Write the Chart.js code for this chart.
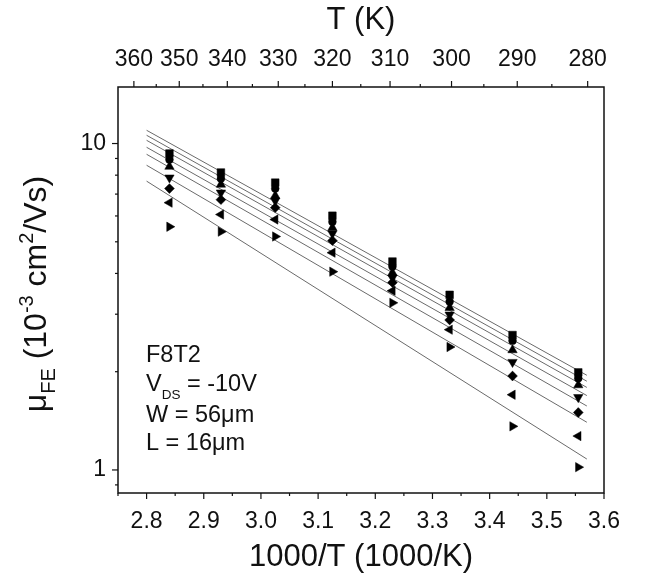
<!DOCTYPE html>
<html>
<head>
<meta charset="utf-8">
<script src="https://cdn.jsdelivr.net/npm/chart.js@4.4.0/dist/chart.umd.min.js"></script>
<style>
  html, body { margin: 0; padding: 0; background: #fff; }
  #wrap { width: 664px; height: 579px; }
</style>
</head>
<body>
<div id="wrap"><canvas id="myChart"></canvas></div>
<script>
// 1000/T positions of the eight measurement temperatures
const invT = [2.84, 2.93, 3.025, 3.125, 3.23, 3.33, 3.44, 3.555];

// field-effect mobility, 10^-3 cm2/Vs, one array per marker type
const muSquare   = [9.32, 8.15, 7.59, 6.01, 4.35, 3.44, 2.59, 1.99];
const muCircle   = [8.93, 7.81, 7.28, 5.76, 4.20, 3.28, 2.49, 1.91];
const muUp       = [8.50, 7.49, 6.92, 5.52, 4.02, 3.14, 2.33, 1.82];
const muDown     = [7.86, 7.07, 6.68, 5.30, 3.88, 2.99, 2.14, 1.67];
const muDiamond  = [7.28, 6.73, 6.36, 5.04, 3.75, 2.88, 1.94, 1.50];
const muLeft     = [6.59, 6.06, 5.85, 4.63, 3.54, 2.69, 1.70, 1.27];
const muRight    = [5.56, 5.37, 5.19, 4.05, 3.25, 2.38, 1.36, 1.02];

// Arrhenius fit lines, read at both ends
const fitX = [2.8, 3.57];
const fitStart = [10.98, 10.60, 10.23, 9.74, 9.27, 8.58, 7.67];
const fitEnd   = [1.95, 1.87, 1.79, 1.69, 1.57, 1.40, 1.08];

// axis ticks
const xTicks = [2.8, 2.9, 3.0, 3.1, 3.2, 3.3, 3.4, 3.5, 3.6];
const xMinor = [2.75, 2.85, 2.95, 3.05, 3.15, 3.25, 3.35, 3.45, 3.55];
const tempTicks = [360, 350, 340, 330, 320, 310, 300, 290, 280];
const tempMinor = [355, 345, 335, 325, 315, 305, 295, 285];
const yTicks = [1, 10];
const yMinor = [0.9, 2, 3, 4, 5, 6, 7, 8, 9];

const FONT = '"Liberation Sans", Arial, sans-serif';
const INK = '#111';

const series = [
    { values: muSquare,  style: 'rect',     rot: 0,   r: 5.4 },
    { values: muCircle,  style: 'circle',   rot: 0,   r: 3.9 },
    { values: muUp,      style: 'triangle', rot: 0,   r: 5.4 },
    { values: muDown,    style: 'triangle', rot: 180, r: 5.4 },
    { values: muDiamond, style: 'rectRot',  rot: 0,   r: 4.9 },
    { values: muLeft,    style: 'triangle', rot: 270, r: 5.4 },
    { values: muRight,   style: 'triangle', rot: 90,  r: 5.4 }
];

const datasets = [];
fitStart.forEach((s, i) => {
    datasets.push({
        data: [{ x: fitX[0], y: s }, { x: fitX[1], y: fitEnd[i] }],
        showLine: true,
        borderColor: '#6a6a6a',
        borderWidth: 1,
        pointRadius: 0,
        order: 2
    });
});
series.forEach(s => {
    datasets.push({
        data: s.values.map((v, i) => ({ x: invT[i], y: v })),
        pointStyle: s.style,
        pointRotation: s.rot,
        pointRadius: s.r,
        backgroundColor: '#000',
        borderColor: '#000',
        borderWidth: 0.5,
        order: 1
    });
});

// draws mixed-size text (sub/superscripts) along the current baseline
function richText(ctx, parts, x, y, center) {
    let total = 0;
    parts.forEach(p => { ctx.font = p[1] + 'px ' + FONT; total += ctx.measureText(p[0]).width; });
    let cx = center ? x - total / 2 : x;
    parts.forEach(p => {
        ctx.font = p[1] + 'px ' + FONT;
        ctx.fillText(p[0], cx, y + p[2]);
        cx += ctx.measureText(p[0]).width;
    });
}

const decor = {
    id: 'decor',
    afterDraw(chart) {
        const ctx = chart.ctx;
        const a = chart.chartArea;
        const xs = chart.scales.x, ys = chart.scales.y;
        ctx.save();
        ctx.strokeStyle = INK;
        ctx.fillStyle = INK;

        // frame
        ctx.lineWidth = 1.5;
        ctx.strokeRect(a.left, a.top, a.right - a.left, a.bottom - a.top);

        // tick marks
        ctx.lineWidth = 1.2;
        const tick = (x1, y1, x2, y2) => { ctx.beginPath(); ctx.moveTo(x1, y1); ctx.lineTo(x2, y2); ctx.stroke(); };
        xTicks.forEach(v => { const px = xs.getPixelForValue(v); tick(px, a.bottom, px, a.bottom + 6); });
        xMinor.forEach(v => { const px = xs.getPixelForValue(v); tick(px, a.bottom, px, a.bottom + 3); });
        tempTicks.forEach(t => { const px = xs.getPixelForValue(1000 / t); tick(px, a.top, px, a.top - 6); });
        tempMinor.forEach(t => { const px = xs.getPixelForValue(1000 / t); tick(px, a.top, px, a.top - 3); });
        yTicks.forEach(v => { const py = ys.getPixelForValue(v); tick(a.left, py, a.left - 6, py); });
        yMinor.forEach(v => { const py = ys.getPixelForValue(v); tick(a.left, py, a.left - 3, py); });

        // axis titles
        const midX = (a.left + a.right) / 2;
        ctx.textAlign = 'left';
        ctx.textBaseline = 'alphabetic';
        richText(ctx, [['T (K)', 31, 0]], midX, 29, true);
        richText(ctx, [['1000/T (1000/K)', 31, 0]], midX, 566, true);

        ctx.save();
        ctx.translate(46, 294);
        ctx.rotate(-Math.PI / 2);
        richText(ctx, [['\u03bc', 32, 0], ['FE', 20, 9], [' (10', 32, 0], ['-3', 20, -13],
                       [' cm', 32, 0], ['2', 20, -13], ['/Vs)', 32, 0]], 0, 0, true);
        ctx.restore();

        // sample annotation
        const tx = 146;
        richText(ctx, [['F8T2', 23.5, 0]], tx, 362, false);
        richText(ctx, [['V', 23.5, 0], ['DS', 13.5, 8], [' = -10V', 23.5, 0]], tx, 391, false);
        richText(ctx, [['W = 56\u03bcm', 23.5, 0]], tx, 422, false);
        richText(ctx, [['L = 16\u03bcm', 23.5, 0]], tx, 450, false);
        ctx.restore();
    }
};

const tickFont = { family: FONT, size: 23 };

new Chart(document.getElementById('myChart').getContext('2d'), {
    type: 'scatter',
    data: { datasets: datasets },
    options: {
        responsive: true,
        maintainAspectRatio: false,
        animation: false,
        layout: { autoPadding: false, padding: { left: 0, right: 60, top: 0, bottom: 0 } },
        plugins: { legend: { display: false }, tooltip: { enabled: false } },
        scales: {
            x: {
                type: 'linear', position: 'bottom', min: 2.75, max: 3.6,
                grid: { display: false, drawTicks: false }, border: { display: false },
                afterBuildTicks: s => { s.ticks = xTicks.map(v => ({ value: v })); },
                afterFit: s => { s.height = 86; },
                ticks: { autoSkip: false, maxRotation: 0, padding: 15, color: INK, font: tickFont,
                         callback: v => Number(v).toFixed(1) }
            },
            x2: {
                type: 'linear', position: 'top', min: 2.75, max: 3.6,
                grid: { display: false, drawTicks: false }, border: { display: false },
                afterBuildTicks: s => { s.ticks = tempTicks.map(t => ({ value: 1000 / t })); },
                afterFit: s => { s.height = 87; },
                ticks: { autoSkip: false, maxRotation: 0, padding: 14, color: INK, font: tickFont,
                         callback: (v, i) => String(tempTicks[i]) }
            },
            y: {
                type: 'logarithmic', position: 'left', min: 0.85, max: 14.9,
                grid: { display: false, drawTicks: false }, border: { display: false },
                afterBuildTicks: s => { s.ticks = yTicks.map(v => ({ value: v })); },
                afterFit: s => { s.width = 118; },
                ticks: { autoSkip: false, padding: 12, color: INK, font: tickFont,
                         callback: v => String(v) }
            }
        }
    },
    plugins: [decor]
});
</script>
</body>
</html>
